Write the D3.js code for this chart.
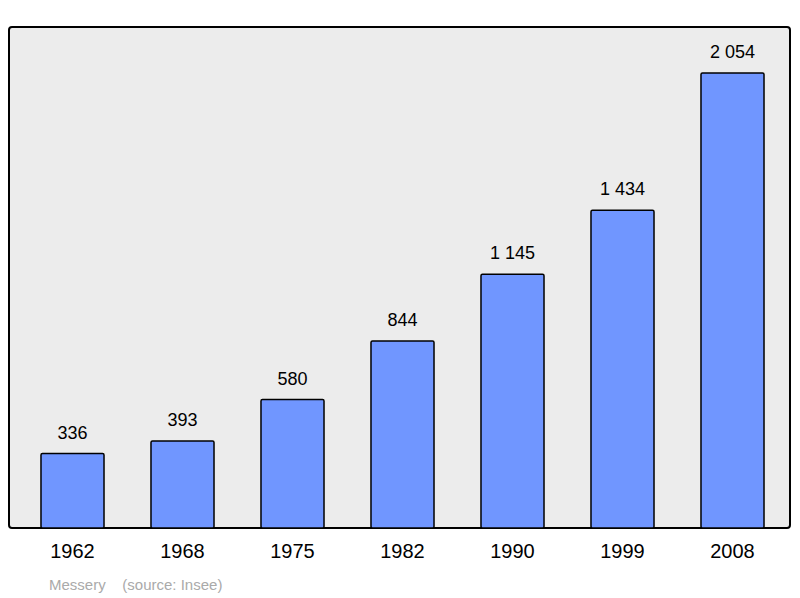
<!DOCTYPE html>
<html><head><meta charset="utf-8">
<script src="https://cdn.jsdelivr.net/npm/d3@7"></script>
<style>body{margin:0;background:#fff}</style>
</head><body>
<script>
var years = ['1962', '1968', '1975', '1982', '1990', '1999', '2008'];
var population = [336, 393, 580, 844, 1145, 1434, 2054];
var valueLabels = ['336', '393', '580', '844', '1 145', '1 434', '2 054'];

var width = 800, height = 598;
var svg = d3.select("body").append("svg")
    .attr("width", width).attr("height", height)
    .style("font-family", "Liberation Sans, Arial, sans-serif");

// frame
svg.append("rect")
    .attr("x", 9).attr("y", 27).attr("width", 781).attr("height", 501)
    .attr("rx", 3)
    .attr("fill", "#ececec").attr("stroke", "#000").attr("stroke-width", 2);

var x = d3.scaleBand().domain(years).range([17.5, 787.5]).paddingInner(0.427).paddingOuter(0.2135);
var y = d3.scaleLinear().domain([0, 2054]).range([528, 73]);

svg.selectAll(".bar").data(years).enter().append("rect")
    .attr("x", function(d) { return x(d); })
    .attr("y", function(d, i) { return y(population[i]); })
    .attr("width", x.bandwidth())
    .attr("height", function(d, i) { return 528 - y(population[i]); })
    .attr("fill", "#7096ff").attr("stroke", "#000").attr("stroke-width", 1.5)
    .attr("rx", 1.5);

// value labels
svg.selectAll(".val").data(years).enter().append("text")
    .attr("x", function(d) { return x(d) + x.bandwidth() / 2; })
    .attr("y", function(d, i) { return y(population[i]) - 15; })
    .attr("text-anchor", "middle").attr("font-size", "18px")
    .text(function(d, i) { return valueLabels[i]; });

// axis labels
var axis = svg.append("g").attr("transform", "translate(0,528)")
    .call(d3.axisBottom(x).tickSize(0).tickPadding(16));
axis.select(".domain").remove();
axis.selectAll("text").attr("font-size", "20px").attr("fill", "#000")
    .style("font-family", "Liberation Sans, Arial, sans-serif");

svg.append("text").attr("x", 49).attr("y", 590)
    .attr("font-size", "15px").attr("fill", "#aaa")
    .attr("xml:space", "preserve").style("white-space", "pre")
    .text("Messery    (source: Insee)");
</script>
</body></html>
